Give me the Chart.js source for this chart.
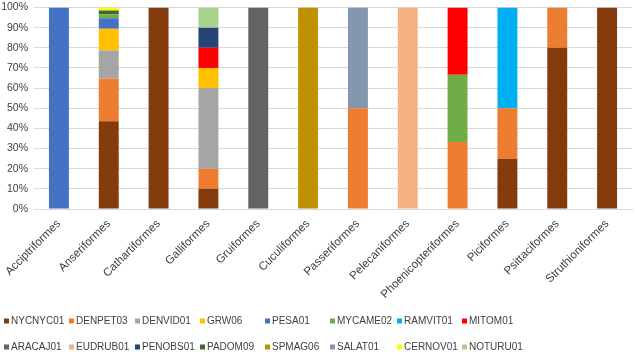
<!DOCTYPE html>
<html>
<head>
<meta charset="utf-8">
<script src="https://cdn.jsdelivr.net/npm/chart.js@4"></script>
<style>
  html, body { margin: 0; padding: 0; background: #fff; }
  #wrap { position: relative; width: 638px; height: 355px; }
</style>
</head>
<body>
<div id="wrap"><canvas id="chart"></canvas></div>
<script>
// 100% stacked bars: species share per bird order
const orders = ['Acciptriformes', 'Anseriformes', 'Cathartiformes', 'Galliformes', 'Gruiformes',
    'Cuculiformes', 'Passeriformes', 'Pelecaniformes', 'Phoenicopteriformes', 'Piciformes',
    'Psittaciformes', 'Struthioniformes'];

const seriesNames = ['NYCNYC01', 'DENPET03', 'DENVID01', 'GRW06', 'PESA01', 'MYCAME02', 'RAMVIT01', 'MITOM01',
    'ARACAJ01', 'EUDRUB01', 'PENOBS01', 'PADOM09', 'SPMAG06', 'SALAT01', 'CERNOV01', 'NOTURU01'];

const seriesColors = ['#843C0C', '#ED7D31', '#A5A5A5', '#FFC000', '#4472C4', '#70AD47', '#00B0F0', '#FF0000',
    '#636363', '#F4B183', '#264478', '#43682B', '#BF9000', '#8497B0', '#FFFF00', '#A9D18E'];

// values in % of each order, same order as the categories above
const nycnyc01 = [0, 43.5, 100, 10, 0, 0, 0, 0, 0, 25, 80, 100];
const denpet03 = [0, 21.3, 0, 10, 0, 0, 50, 0, 33.3, 25, 20, 0];
const denvid01 = [0, 13.9, 0, 40, 0, 0, 0, 0, 0, 0, 0, 0];
const grw06    = [0, 10.7, 0, 10, 0, 0, 0, 0, 0, 0, 0, 0];
const pesa01   = [100, 5.3, 0, 0, 0, 0, 0, 0, 0, 0, 0, 0];
const mycame02 = [0, 1.9, 0, 0, 0, 0, 0, 0, 33.3, 0, 0, 0];
const ramvit01 = [0, 0, 0, 0, 0, 0, 0, 0, 0, 50, 0, 0];
const mitom01  = [0, 0, 0, 10, 0, 0, 0, 0, 33.4, 0, 0, 0];
const aracaj01 = [0, 0, 0, 0, 100, 0, 0, 0, 0, 0, 0, 0];
const eudrub01 = [0, 0, 0, 0, 0, 0, 0, 100, 0, 0, 0, 0];
const penobs01 = [0, 0, 0, 10, 0, 0, 0, 0, 0, 0, 0, 0];
const padom09  = [0, 1.9, 0, 0, 0, 0, 0, 0, 0, 0, 0, 0];
const spmag06  = [0, 0, 0, 0, 0, 100, 0, 0, 0, 0, 0, 0];
const salat01  = [0, 0, 0, 0, 0, 0, 50, 0, 0, 0, 0, 0];
const cernov01 = [0, 1.5, 0, 0, 0, 0, 0, 0, 0, 0, 0, 0];
const noturu01 = [0, 0, 0, 10, 0, 0, 0, 0, 0, 0, 0, 0];

const seriesValues = [nycnyc01, denpet03, denvid01, grw06, pesa01, mycame02, ramvit01, mitom01,
    aracaj01, eudrub01, penobs01, padom09, spmag06, salat01, cernov01, noturu01];

const yTicks = [0, 10, 20, 30, 40, 50, 60, 70, 80, 90, 100];

const FONT = 'Liberation Sans, Arial, sans-serif';

// Excel-like legend: 2 rows of 8 aligned columns
const gridLegend = {
    id: 'gridLegend',
    afterDraw(chart) {
        const ctx = chart.ctx;
        const colX = [4, 69, 135, 200, 265, 330, 397, 462];
        const rowY = [321, 347];
        ctx.save();
        ctx.font = '10px ' + FONT;
        ctx.textBaseline = 'middle';
        ctx.textAlign = 'left';
        chart.data.datasets.forEach((ds, i) => {
            const x = colX[i % 8];
            const y = rowY[Math.floor(i / 8)];
            ctx.fillStyle = ds.backgroundColor;
            ctx.fillRect(x, y - 2.5, 5, 5);
            ctx.fillStyle = '#404040';
            ctx.fillText(ds.label, x + 7, y);
        });
        ctx.restore();
    }
};

new Chart(document.getElementById('chart'), {
    type: 'bar',
    data: {
        labels: orders,
        datasets: seriesNames.map((name, i) => ({
            label: name,
            data: seriesValues[i],
            backgroundColor: seriesColors[i],
            borderWidth: 0,
            barPercentage: 0.4,
            categoryPercentage: 1
        }))
    },
    options: {
        responsive: true,
        maintainAspectRatio: false,
        animation: false,
        layout: { padding: { top: 7.5, right: 6, bottom: 50, left: 0 } },
        plugins: {
            legend: { display: false },
            tooltip: { enabled: false }
        },
        scales: {
            x: {
                stacked: true,
                grid: { display: false },
                border: { color: '#d9d9d9', width: 1 },
                ticks: {
                    color: '#404040',
                    font: { family: FONT, size: 11.5 },
                    minRotation: 45,
                    maxRotation: 45,
                    autoSkip: false,
                    padding: 0
                },
                afterFit(scale) { scale.height = 96; }
            },
            y: {
                stacked: true,
                min: 0,
                max: 100,
                afterBuildTicks(scale) { scale.ticks = yTicks.map(v => ({ value: v })); },
                grid: { color: '#d9d9d9', drawTicks: false },
                border: { display: false },
                ticks: {
                    color: '#404040',
                    font: { family: FONT, size: 10.5 },
                    padding: 6,
                    callback: v => v + '%'
                },
                afterFit(scale) {
                    scale.width = 34;
                    scale.paddingTop = 0;
                    scale.paddingBottom = 0;
                }
            }
        }
    },
    plugins: [gridLegend]
});
</script>
</body>
</html>
